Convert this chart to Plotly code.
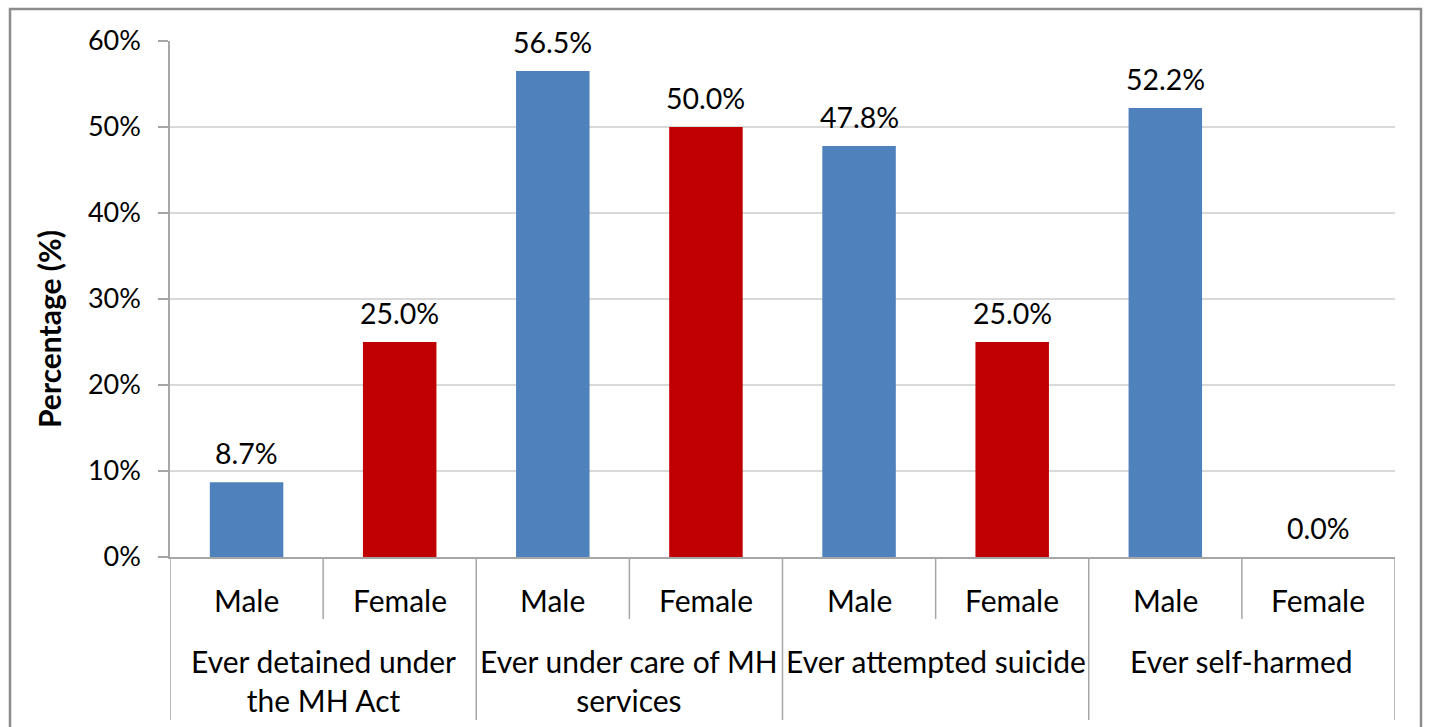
import plotly.graph_objects as go

# Data
groups = [
    "Ever detained under<br>the MH Act",
    "Ever under care of MH<br>services",
    "Ever attempted suicide",
    "Ever self-harmed",
]
sexes = ["Male", "Female"]
male_pct = [8.7, 56.5, 47.8, 52.2]
female_pct = [25.0, 50.0, 25.0, 0.0]
y_ticks = [0, 10, 20, 30, 40, 50, 60]

BLUE = "#4F81BD"
RED = "#C00000"
AXIS = "#A6A6A6"
GRID = "#D9D9D9"
FONT = "Lato"

W, H = 1429, 727
ML, MR, MT, MB = 170, 34, 41, 170
PW = W - ML - MR
PH = H - MT - MB


def px_x(p):
    return (p - ML) / PW


def px_y(p):
    return (H - MB - p) / PH


n = len(groups)
male_x = [2 * i for i in range(n)]
female_x = [2 * i + 1 for i in range(n)]

fig = go.Figure()
fig.add_trace(go.Bar(x=male_x, y=male_pct, width=0.48, marker=dict(color=BLUE, line=dict(width=0)),
                     name="Male", hoverinfo="skip"))
fig.add_trace(go.Bar(x=female_x, y=female_pct, width=0.48, marker=dict(color=RED, line=dict(width=0)),
                     name="Female", hoverinfo="skip"))

ann = []
# value labels above bars
for xs, vals in ((male_x, male_pct), (female_x, female_pct)):
    for x, v in zip(xs, vals):
        ann.append(dict(x=x, y=v, xref="x", yref="y", text=f"{v:.1f}%", showarrow=False,
                        yshift=29, yanchor="middle", font=dict(family=FONT, size=28.5, color="#000")))

# category labels
for i in range(2 * n):
    ann.append(dict(x=i, y=px_y(600), xref="x", yref="paper", text=sexes[i % 2], showarrow=False,
                    yanchor="middle", font=dict(family=FONT, size=30, color="#000")))
for g, name in enumerate(groups):
    ann.append(dict(x=2 * g + 0.5, y=px_y(641), xref="x", yref="paper", text=name, showarrow=False,
                    yanchor="top", align="center", font=dict(family=FONT, size=30, color="#000")))

# y axis title
ann.append(dict(x=px_x(29), y=px_y(329), xref="paper", yref="paper", text="<b>Percentage (%)</b>",
                textangle=-90, showarrow=False, font=dict(family=FONT, size=30, color="#000")))

shapes = []
# divider lines of the category axis
for i in range(2 * n + 1):
    bottom = 720 if i % 2 == 0 else 619
    shapes.append(dict(type="line", xref="x", yref="paper", x0=i - 0.5, x1=i - 0.5,
                       y0=0, y1=px_y(bottom), line=dict(color=AXIS, width=1.5)))
# chart border
shapes.append(dict(type="rect", xref="paper", yref="paper", x0=px_x(10), x1=px_x(1421),
                   y0=px_y(760), y1=px_y(9), line=dict(color="#8C8C8C", width=2.5)))

fig.update_layout(
    width=W, height=H,
    margin=dict(l=ML, r=MR, t=MT, b=MB),
    paper_bgcolor="white", plot_bgcolor="white",
    showlegend=False, barmode="overlay",
    annotations=ann, shapes=shapes,
    font=dict(family=FONT, color="#000"),
)
fig.update_xaxes(range=[-0.5, 2 * n - 0.5], showticklabels=False, showgrid=False, zeroline=False,
                 showline=True, linecolor=AXIS, linewidth=1.5, ticks="")
fig.update_yaxes(range=[0, 60], tickvals=y_ticks, ticktext=[f"{t}%" for t in y_ticks],
                 tickfont=dict(family=FONT, size=27, color="#000"),
                 showgrid=True, gridcolor=GRID, gridwidth=1.5, zeroline=False,
                 showline=True, linecolor=AXIS, linewidth=1.5,
                 ticks="outside", ticklen=10, tickcolor=AXIS, tickwidth=1.5, ticklabelstandoff=12)

fig.write_html("out.html")
